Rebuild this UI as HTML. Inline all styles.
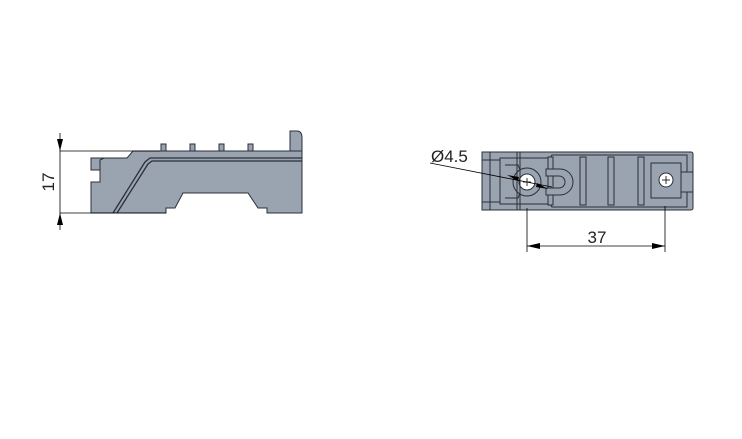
<!DOCTYPE html>
<html><head><style>html,body{margin:0;padding:0;background:#fff;width:742px;height:439px;overflow:hidden}</style></head>
<body>
<svg width="742" height="439" viewBox="0 0 742 439" xmlns="http://www.w3.org/2000/svg" font-family="Liberation Sans, sans-serif">
<!-- LEFT VIEW -->
<g stroke="#2a2f38" stroke-width="1" fill="#9aa3b0">
  <path d="M290,151 L290,131 L297,131 Q302,131 302,138 L302,151 Z"/>
  <rect x="161" y="144" width="5" height="7"/>
  <rect x="190" y="144" width="5" height="7"/>
  <rect x="219" y="144" width="5" height="7"/>
  <rect x="248" y="144" width="5" height="7"/>
  <path d="M91,158 L127,158 L133,151 L302,151 L302,213 L267,213 L267,208 L258,208 L248,193 L183,193 L175,208 L166,208 L166,213 L91,213 L91,182 L100,182 L100,170 L91,170 Z"/>
  <path d="M100,170 L100,160 L104,158" fill="none"/>
  <path d="M302,158 L150,158 L145,162 L113,213" fill="none" stroke-width="1.3"/>
  <path d="M302,161 L152,161 L148,164 L117,213" fill="none" stroke-width="1.3"/>
  <line x1="166" y1="208" x2="175" y2="208"/>
  <line x1="258" y1="208" x2="267" y2="208"/>
</g>
<g stroke="#000" stroke-width="0.8">
  <line x1="60" y1="151" x2="160" y2="151"/>
  <line x1="60" y1="213" x2="166" y2="213"/>
  <line x1="60" y1="133" x2="60" y2="230"/>
</g>
<path d="M57,139 L63,139 L60,151 Z M57,225 L63,225 L60,213 Z" fill="#000"/>
<text x="0" y="0" font-size="17" transform="translate(54,182) rotate(-90)" text-anchor="middle" fill="#222">17</text>
<!-- RIGHT VIEW -->
<g stroke="#2a2f38" stroke-width="1" fill="#9aa3b0">
  <rect x="482" y="152" width="211" height="58" rx="2"/>
  <rect x="482" y="152" width="8" height="8"/>
  <rect x="482" y="202" width="8" height="8"/>
  <path d="M490,160 L500,160 L500,202 L490,202 Z"/>
  <path d="M500,158 L550,158 L552,155 L687,155 L687,207 L552,207 L550,204 L500,204 Z" fill="none"/>
  <path d="M505,165 L518,165 L520,170 M505,198 L518,198 L520,193" fill="none"/>
  <circle cx="527" cy="182" r="14"/>
  <circle cx="527" cy="182" r="8" fill="#fff"/>
  <rect x="548" y="157" width="5" height="48"/>
  <path d="M546,169 L560,169 A13,13 0 0 1 560,195 L546,195 L546,188 L559,188 A6,6 0 0 0 559,176 L546,176 Z"/>
  <rect x="580" y="157" width="6" height="48"/>
  <rect x="608" y="157" width="6" height="48"/>
  <rect x="638" y="157" width="6" height="48"/>
  <rect x="651" y="163" width="30" height="35"/>
  <circle cx="666" cy="180" r="7" fill="#fff"/>
  <rect x="681" y="172" width="12" height="20"/>
  <line x1="517" y1="152" x2="517" y2="210"/>
  <line x1="520" y1="152" x2="520" y2="210"/>
</g>
<g stroke="#000" stroke-width="0.8">
  <line x1="523" y1="182" x2="531" y2="182"/><line x1="527" y1="178" x2="527" y2="186"/>
  <line x1="662" y1="180" x2="670" y2="180"/><line x1="666" y1="176" x2="666" y2="184"/>
  <line x1="430" y1="163" x2="552" y2="187"/>
  <line x1="527" y1="208" x2="527" y2="252"/>
  <line x1="665" y1="206" x2="665" y2="252"/>
  <line x1="527" y1="246" x2="665" y2="246"/>
</g>
<path d="M507,175 L519,177 L518,181 Z M548,189 L536,187 L537,183 Z" fill="#000"/>
<path d="M527,246 L540,243 L540,249 Z M665,246 L652,243 L652,249 Z" fill="#000"/>
<text x="431" y="162" font-size="17" fill="#222">Ø4.5</text>
<text x="597" y="243" font-size="17" fill="#222" text-anchor="middle">37</text>
</svg>
</body></html>
